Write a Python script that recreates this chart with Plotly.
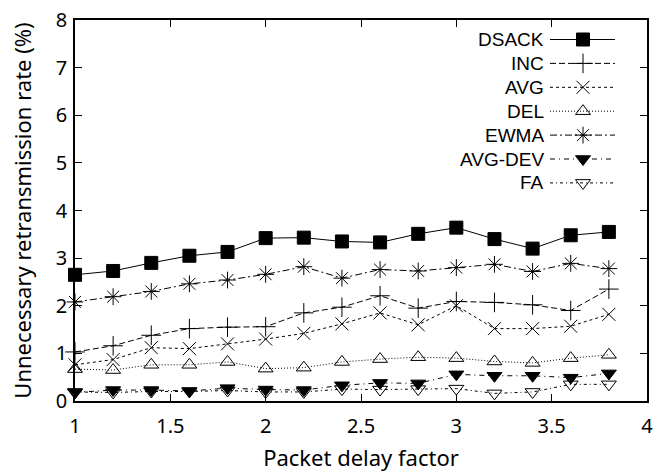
import plotly.graph_objects as go

x_vals = [1.0, 1.2, 1.4, 1.6, 1.8, 2.0, 2.2, 2.4, 2.6, 2.8, 3.0, 3.2, 3.4, 3.6, 3.8]
dsack = [2.65, 2.73, 2.9, 3.05, 3.13, 3.42, 3.43, 3.35, 3.33, 3.51, 3.64, 3.4, 3.2, 3.48, 3.55]
inc = [1.03, 1.16, 1.38, 1.52, 1.55, 1.56, 1.85, 1.97, 2.21, 1.95, 2.09, 2.07, 2.02, 1.9, 2.35]
avg = [0.76, 0.87, 1.12, 1.1, 1.2, 1.3, 1.42, 1.62, 1.85, 1.6, 2.0, 1.52, 1.52, 1.57, 1.82]
dele = [0.67, 0.65, 0.76, 0.76, 0.82, 0.68, 0.7, 0.82, 0.88, 0.92, 0.9, 0.83, 0.8, 0.9, 0.97]
ewma = [2.08, 2.19, 2.3, 2.46, 2.54, 2.66, 2.82, 2.58, 2.76, 2.73, 2.8, 2.87, 2.72, 2.89, 2.78]
avg_dev = [0.18, 0.23, 0.23, 0.21, 0.27, 0.24, 0.23, 0.33, 0.38, 0.37, 0.56, 0.53, 0.53, 0.49, 0.58]
fa = [0.19, 0.18, 0.2, 0.2, 0.22, 0.19, 0.19, 0.25, 0.24, 0.25, 0.26, 0.16, 0.19, 0.35, 0.35]

series_names = ["DSACK", "INC", "AVG", "DEL", "EWMA", "AVG-DEV", "FA"]
series_values = [dsack, inc, avg, dele, ewma, avg_dev, fa]
x_ticks = [1, 1.5, 2, 2.5, 3, 3.5, 4]
y_ticks = [0, 1, 2, 3, 4, 5, 6, 7, 8]

styles = [
    dict(dash="solid", symbol="square", size=13, color="black"),
    dict(dash="6px,3px", symbol="cross-thin", size=14, color="black"),
    dict(dash="3px,3px", symbol="x-thin", size=13, color="black"),
    dict(dash="1px,2px", symbol="triangle-up-open", size=13, color="black"),
    dict(dash="7px,3px,2px,3px", symbol="asterisk-open", size=14, color="black"),
    dict(dash="5px,4px,1px,4px", symbol="triangle-down", size=13, color="black"),
    dict(dash="3px,3px,1px,3px", symbol="triangle-down-open", size=13, color="black"),
]

AXFONT = "Noto Sans"

fig = go.Figure()
for name, vals, st in zip(series_names, series_values, styles):
    fig.add_trace(go.Scatter(
        x=x_vals, y=vals, mode="lines+markers", name=name,
        line=dict(color="black", width=1, dash=st["dash"]),
        marker=dict(symbol=st["symbol"], size=st["size"], color=st["color"],
                    line=dict(color="black", width=1)),
        showlegend=False, cliponaxis=False,
    ))

# Gnuplot-style key: label on left, sample on right (drawn on a hidden 0..1 overlay axis)
W, H = 654, 472
L, R, T, B = 75, 7, 20, 71
pw, ph = W - L - R, H - T - B
row0_px, row_step_px = 39.5, 23.9
x_line0 = (550 - L) / pw
x_line1 = (615 - L) / pw
x_mark = (583 - L) / pw
x_text = (546 - L) / pw
annotations = []
for i, (name, st) in enumerate(zip(series_names, styles)):
    yr = (H - B - (row0_px + i * row_step_px)) / ph
    fig.add_trace(go.Scatter(
        x=[x_line0, x_line1], y=[yr, yr], mode="lines", xaxis="x2", yaxis="y2",
        line=dict(color="black", width=1, dash=st["dash"]), showlegend=False, hoverinfo="skip"))
    fig.add_trace(go.Scatter(
        x=[x_mark], y=[yr], mode="markers", xaxis="x2", yaxis="y2",
        marker=dict(symbol=st["symbol"], size=st["size"], color=st["color"],
                    line=dict(color="black", width=1)),
        showlegend=False, hoverinfo="skip"))
    annotations.append(dict(x=x_text, y=yr, xref="x2", yref="y2", text=name,
                            showarrow=False, xanchor="right", yanchor="middle",
                            font=dict(family="Liberation Sans, Arial", size=19, color="black")))

fig.update_layout(
    width=W, height=H,
    margin=dict(l=L, r=R, t=T, b=B, autoexpand=False),
    paper_bgcolor="white", plot_bgcolor="white",
    font=dict(family=AXFONT, size=18, color="black"),
    xaxis=dict(range=[1, 4], tickvals=x_ticks, ticktext=[str(v) for v in x_ticks],
               ticks="inside", ticklen=7, tickwidth=1, tickcolor="black",
               showline=True, linecolor="black", linewidth=1.5, mirror="ticks",
               showgrid=False, zeroline=False, automargin=False,
               tickfont=dict(size=20),
               ticklabelstandoff=6,
               title=dict(text="Packet delay factor", standoff=19)),
    yaxis=dict(range=[0, 8], tickvals=y_ticks, ticktext=[str(v) for v in y_ticks],
               ticks="inside", ticklen=7, tickwidth=1, tickcolor="black",
               showline=True, linecolor="black", linewidth=1.5, mirror="ticks",
               showgrid=False, zeroline=False, automargin=False,
               tickfont=dict(size=20),
               ticklabelstandoff=2,
               title=dict(text="Unnecessary retransmission rate (%)", standoff=18)),
    xaxis2=dict(range=[0, 1], overlaying="x", visible=False, anchor="y2"),
    yaxis2=dict(range=[0, 1], overlaying="y", visible=False, anchor="x2"),
    annotations=annotations,
)

fig.write_html("out.html")
